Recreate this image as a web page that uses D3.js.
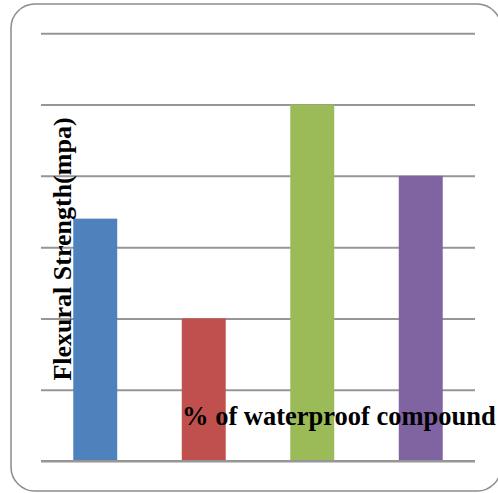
<!DOCTYPE html>
<html>
<head>
<meta charset="utf-8">
<script src="https://cdn.jsdelivr.net/npm/d3@7"></script>
<style>
  html, body { margin: 0; padding: 0; background: #fff; }
  svg { display: block; }
</style>
</head>
<body>
<script>
const categories = ["0%", "1%", "2%", "3%"];
const values = [3.4, 2, 5, 4];
const colors = ["#4F81BD", "#C0504D", "#9BBB59", "#8064A2"];
const yTicks = [0, 1, 2, 3, 4, 5, 6];
const yTitle = "Flexural Strength(mpa)";
const xTitle = "% of waterproof compound";

const W = 498, H = 493;
const svg = d3.select("body").append("svg").attr("width", W).attr("height", H);

svg.append("rect")
  .attr("x", 11).attr("y", 4)
  .attr("width", 490).attr("height", 487)
  .attr("rx", 24).attr("ry", 24)
  .attr("fill", "#fff").attr("stroke", "#8c8c8c").attr("stroke-width", 1.5);

const plot = { left: 41, right: 475, top: 33.3, bottom: 461 };

const x = d3.scaleBand().domain(categories)
  .range([plot.left, plot.right]).paddingInner(0.595).paddingOuter(0.2975);
const y = d3.scaleLinear().domain([0, 6]).range([plot.bottom, plot.top]);

const grid = svg.append("g")
  .attr("transform", `translate(${plot.left},0)`)
  .call(d3.axisLeft(y).tickValues(yTicks).tickSize(-(plot.right - plot.left)).tickFormat(""));
grid.select(".domain").remove();
grid.selectAll(".tick line").attr("stroke", "#969696").attr("stroke-width", 2);

svg.append("g").selectAll("rect.bar")
  .data(values)
  .join("rect")
  .attr("class", "bar")
  .attr("x", (d, i) => x(categories[i]))
  .attr("width", x.bandwidth())
  .attr("y", d => y(d))
  .attr("height", d => y(0) - y(d))
  .attr("fill", (d, i) => colors[i]);

svg.append("line")
  .attr("x1", plot.left).attr("x2", plot.right)
  .attr("y1", y(0)).attr("y2", y(0))
  .attr("stroke", "#969696").attr("stroke-width", 2);

svg.append("text")
  .attr("transform", `translate(71,249) rotate(-90)`)
  .attr("text-anchor", "middle")
  .attr("font-family", "'Liberation Serif', 'Times New Roman', serif")
  .attr("font-weight", "bold")
  .attr("font-size", 26)
  .attr("fill", "#000")
  .text(yTitle);

svg.append("text")
  .attr("x", 182).attr("y", 425)
  .attr("text-anchor", "start")
  .attr("font-family", "'Liberation Serif', 'Times New Roman', serif")
  .attr("font-weight", "bold")
  .attr("font-size", 26.5)
  .attr("fill", "#000")
  .text(xTitle);
</script>
</body>
</html>
